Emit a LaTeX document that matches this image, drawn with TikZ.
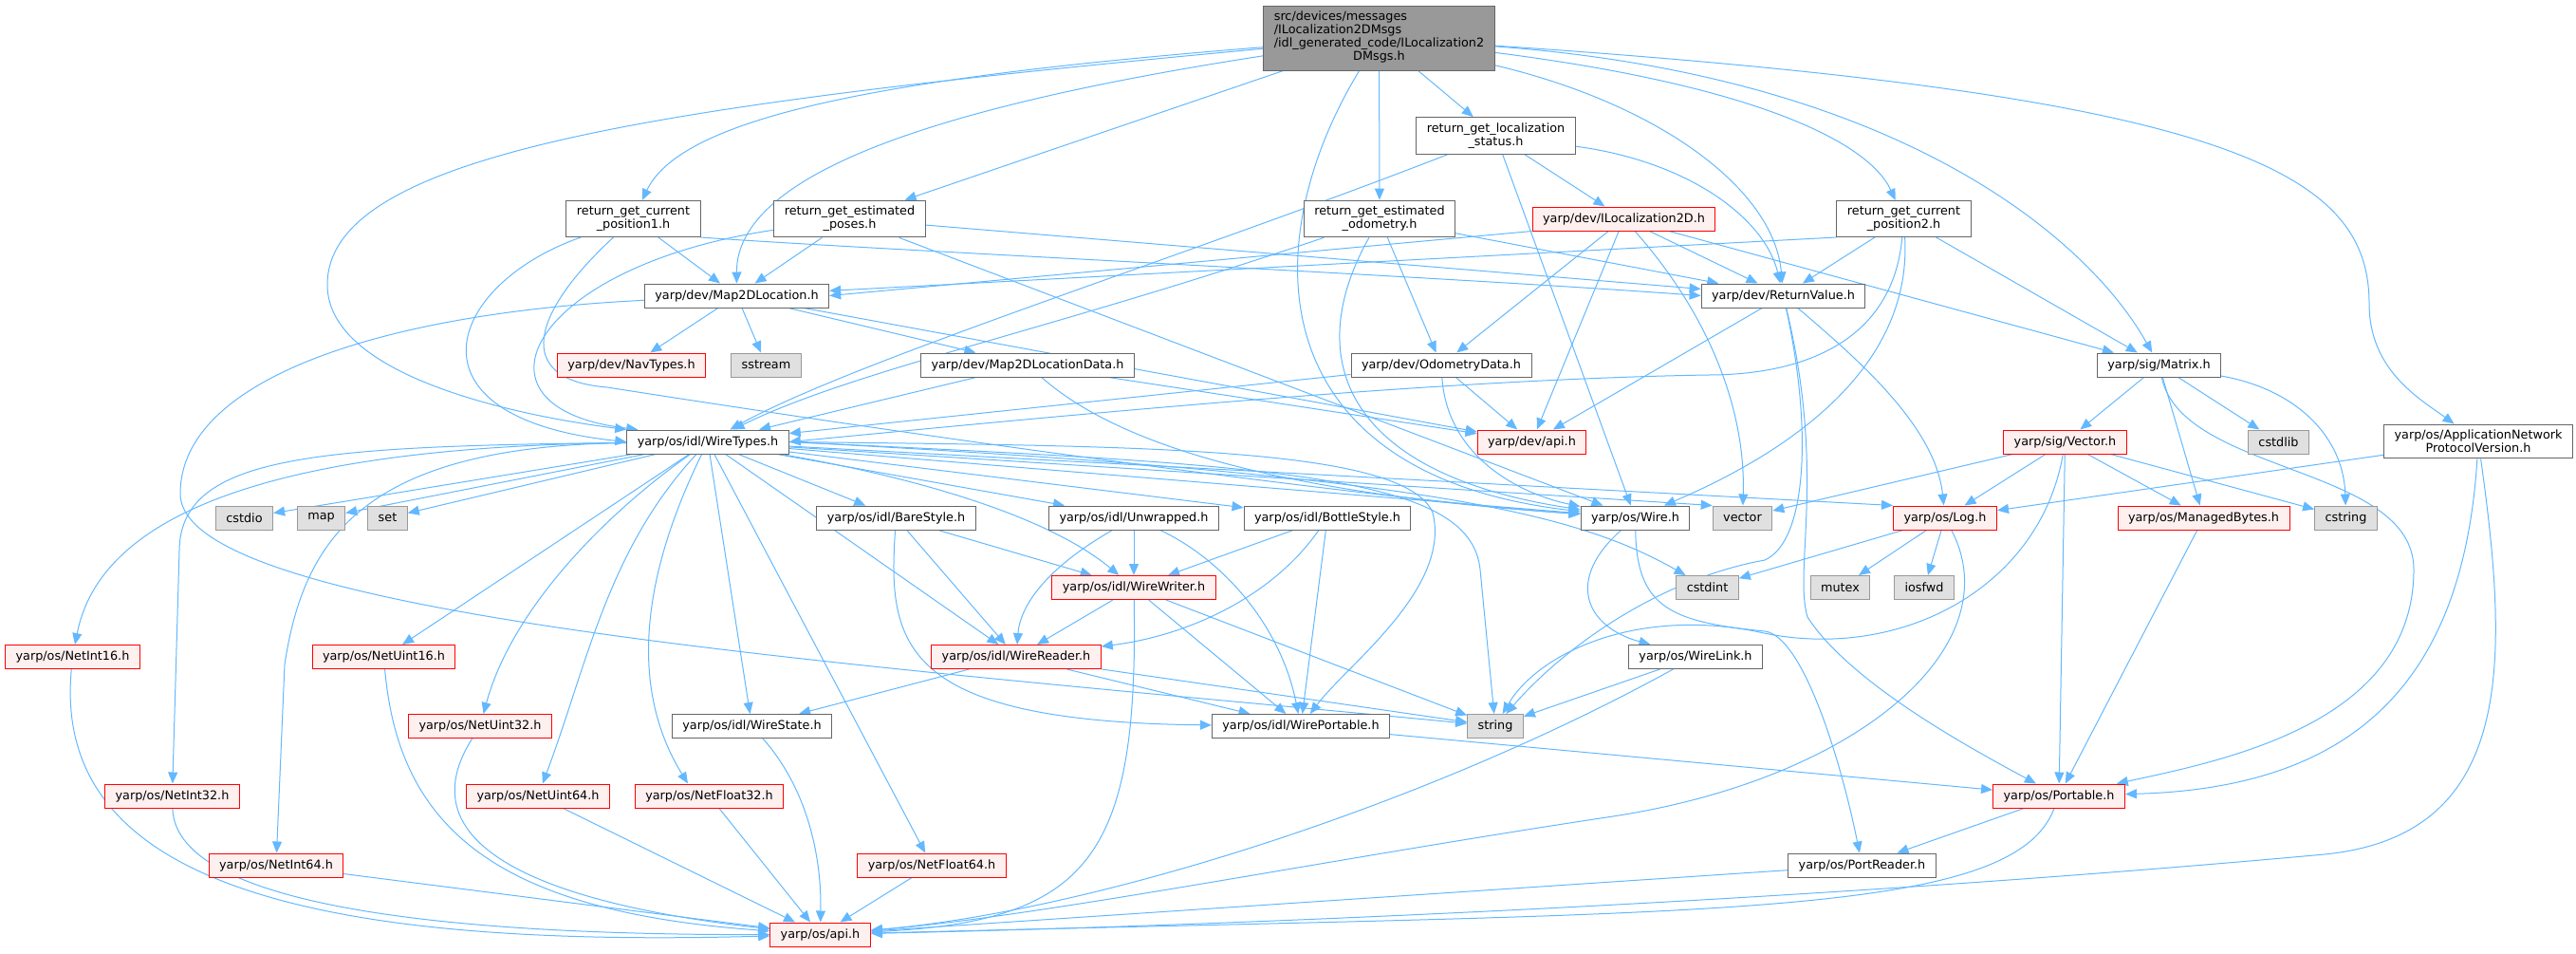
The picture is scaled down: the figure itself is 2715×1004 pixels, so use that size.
\documentclass[tikz,border=0pt]{standalone}
\usepackage{fontspec}
\setmainfont{DejaVu Sans}
\usetikzlibrary{arrows.meta, backgrounds}

\definecolor{inclblue}{HTML}{63B8FF}
\definecolor{nodegray}{HTML}{666666}
\definecolor{sysgray}{HTML}{999999}
\definecolor{sysfill}{HTML}{E0E0E0}
\definecolor{redfill}{HTML}{FFF0F0}

\tikzset{
  hdr/.style={draw=nodegray, fill=white, line width=0.75pt, inner xsep=8.25pt, inner ysep=4.5pt,
    minimum height=18.75pt, align=center, font=\fontsize{9.6}{10.5}\selectfont},
  redhdr/.style={hdr, draw=red, fill=redfill},
  syshdr/.style={hdr, draw=sysgray, fill=sysfill},
  mainhdr/.style={hdr, fill=sysgray},
  incl/.style={draw=inclblue, line width=0.75pt, -{Triangle[length=9pt, width=7.5pt]}}
}

\begin{document}
\begin{tikzpicture}[x=0.75pt, y=0.75pt]
\useasboundingbox (0,0) rectangle (2715,-1004);

\node[mainhdr] (top) at (1453.5,-40) {\begin{tabular}{@{}l@{}}src/devices/messages\\/ILocalization2DMsgs\\/idl\_generated\_code/ILocalization2\\\multicolumn{1}{@{}c@{}}{DMsgs.h}\end{tabular}};
\node[hdr] (rgls) at (1576.5,-143) {return\_get\_localization\\\_status.h};
\node[hdr] (rgcpA) at (667.5,-230.5) {return\_get\_current\\\_position1.h};
\node[hdr] (rgep) at (895.5,-230.5) {return\_get\_estimated\\\_poses.h};
\node[hdr] (rgeo) at (1454,-230.5) {return\_get\_estimated\\\_odometry.h};
\node[redhdr] (iloc) at (1711.5,-230.5) {yarp/dev/ILocalization2D.h};
\node[hdr] (rgcpB) at (2006.5,-230.5) {return\_get\_current\\\_position2.h};
\node[hdr] (mapLoc) at (776.5,-311.5) {yarp/dev/Map2DLocation.h};
\node[hdr] (retVal) at (1879.5,-311.5) {yarp/dev/ReturnValue.h};
\node[redhdr] (navTypes) at (665.5,-384.5) {yarp/dev/NavTypes.h};
\node[syshdr] (sstream) at (807.5,-384.5) {sstream};
\node[hdr] (mapLocData) at (1083,-384.5) {yarp/dev/Map2DLocationData.h};
\node[hdr] (odomData) at (1519,-384.5) {yarp/dev/OdometryData.h};
\node[hdr] (matrix) at (2275.5,-384.5) {yarp/sig/Matrix.h};
\node[hdr] (wireTypes) at (746,-465.5) {yarp/os/idl/WireTypes.h};
\node[redhdr] (devApi) at (1614.5,-465.5) {yarp/dev/api.h};
\node[redhdr] (sigVector) at (2176.5,-465.5) {yarp/sig/Vector.h};
\node[syshdr] (cstdlib) at (2401.5,-465.5) {cstdlib};
\node[hdr] (appNet) at (2612,-465) {yarp/os/ApplicationNetwork\\ProtocolVersion.h};
\node[syshdr] (cstdio) at (257.5,-545.5) {cstdio};
\node[syshdr] (map) at (338.5,-545.5) {map};
\node[syshdr] (set) at (408.5,-545.5) {set};
\node[hdr] (bareStyle) at (944.5,-545.5) {yarp/os/idl/BareStyle.h};
\node[hdr] (unwrapped) at (1195,-545.5) {yarp/os/idl/Unwrapped.h};
\node[hdr] (bottleStyle) at (1399,-545.5) {yarp/os/idl/BottleStyle.h};
\node[hdr] (wire) at (1723.5,-545.5) {yarp/os/Wire.h};
\node[syshdr] (vector) at (1836.5,-545.5) {vector};
\node[redhdr] (log) at (2050,-545.5) {yarp/os/Log.h};
\node[redhdr] (managedBytes) at (2322.5,-545.5) {yarp/os/ManagedBytes.h};
\node[syshdr] (cstring) at (2472.5,-545.5) {cstring};
\node[redhdr] (wireWriter) at (1195,-619) {yarp/os/idl/WireWriter.h};
\node[syshdr] (cstdint) at (1799.5,-619) {cstdint};
\node[syshdr] (mutex) at (1939.5,-619) {mutex};
\node[syshdr] (iosfwd) at (2028,-619) {iosfwd};
\node[redhdr] (netInt16) at (76.5,-692) {yarp/os/NetInt16.h};
\node[redhdr] (netUint16) at (404.5,-692) {yarp/os/NetUint16.h};
\node[redhdr] (wireReader) at (1071,-692) {yarp/os/idl/WireReader.h};
\node[hdr] (wireLink) at (1787,-692) {yarp/os/WireLink.h};
\node[redhdr] (netUint32) at (506,-765) {yarp/os/NetUint32.h};
\node[hdr] (wireState) at (792.5,-765) {yarp/os/idl/WireState.h};
\node[hdr] (wirePortable) at (1371,-765) {yarp/os/idl/WirePortable.h};
\node[syshdr] (string) at (1576,-765) {string};
\node[redhdr] (netInt32) at (181.5,-838.5) {yarp/os/NetInt32.h};
\node[redhdr] (netUint64) at (567,-838.5) {yarp/os/NetUint64.h};
\node[redhdr] (netFloat32) at (747.5,-838.5) {yarp/os/NetFloat32.h};
\node[redhdr] (portable) at (2170,-838.5) {yarp/os/Portable.h};
\node[redhdr] (netInt64) at (291,-911.5) {yarp/os/NetInt64.h};
\node[redhdr] (netFloat64) at (982,-911.5) {yarp/os/NetFloat64.h};
\node[hdr] (portReader) at (1962.5,-911.5) {yarp/os/PortReader.h};
\node[redhdr] (osApi) at (864.5,-984.5) {yarp/os/api.h};

\begin{scope}[on background layer]
\foreach \a/\b in {top/rgep, top/rgeo, top/rgls, rgls/iloc, rgls/wire, rgcpA/mapLoc, rgep/mapLoc,
    rgep/retVal, rgep/wire, rgeo/retVal, rgeo/odomData, iloc/retVal, iloc/odomData, iloc/devApi,
    iloc/matrix, rgcpB/retVal, rgcpB/matrix, mapLoc/navTypes, mapLoc/sstream, mapLoc/mapLocData,
    mapLoc/devApi, retVal/devApi, mapLocData/wireTypes, mapLocData/devApi, odomData/devApi,
    odomData/wireTypes, matrix/sigVector, matrix/cstdlib, matrix/managedBytes, sigVector/vector,
    sigVector/log, sigVector/portable, sigVector/managedBytes, sigVector/cstring, appNet/log,
    wireTypes/cstdio, wireTypes/map, wireTypes/set, wireTypes/netUint16, wireTypes/netFloat64,
    wireTypes/wireState, wireTypes/bareStyle, wireTypes/unwrapped, wireTypes/bottleStyle,
    wireTypes/wireReader, wireTypes/wire, bareStyle/wireWriter, bareStyle/wireReader,
    unwrapped/wireWriter, bottleStyle/wireWriter, bottleStyle/wirePortable, wireWriter/wireReader,
    wireWriter/wirePortable, wireWriter/string, wireReader/wireState, wireReader/wirePortable,
    wireReader/string, wireLink/string, log/cstdint, log/mutex, log/iosfwd, managedBytes/portable,
    portable/portReader, portReader/osApi, wirePortable/portable, netInt64/osApi, netUint64/osApi,
    netFloat32/osApi, netFloat64/osApi}
  \draw[incl] (\a) -- (\b);

\draw[incl] (top) .. controls (700,-110) and (345,-160) .. (345,-300) .. controls (345,-400) and (560,-440) .. (wireTypes.north west);
\draw[incl] (top) .. controls (950,-80) and (720,-120) .. (rgcpA);
\draw[incl] (top) .. controls (1000,-110) and (776,-180) .. (mapLoc);
\draw[incl] (top) .. controls (1320,-260) and (1330,-500) .. (wire);
\draw[incl] (top) .. controls (1750,-110) and (1870,-200) .. (retVal);
\draw[incl] (top) .. controls (1850,-90) and (1970,-150) .. (rgcpB);
\draw[incl] (top) .. controls (2000,-80) and (2200,-250) .. (matrix);
\draw[incl] (top) .. controls (2350,-100) and (2497,-180) .. (2497,-320) .. controls (2497,-390) and (2550,-420) .. (appNet);
\draw[incl] (rgls) .. controls (1780,-170) and (1860,-230) .. (retVal);
\draw[incl] (rgls) .. controls (1250,-270) and (900,-380) .. (wireTypes);
\draw[incl] (rgcpA) .. controls (470,-300) and (420,-440) .. (wireTypes.west);
\draw[incl] (rgcpA) .. controls (560,-330) and (540,-400) .. (640,-408) .. controls (1100,-480) and (1500,-530) .. (wire);
\draw[incl] (rgcpA.south east) .. controls (900,-262) and (1500,-290) .. (retVal.west);
\draw[incl] (rgep) .. controls (560,-280) and (480,-430) .. (wireTypes.170);
\draw[incl] (rgeo) .. controls (1100,-350) and (900,-390) .. (wireTypes);
\draw[incl] (rgeo) .. controls (1370,-380) and (1420,-500) .. (wire);
\draw[incl] (iloc.south west) -- (mapLoc.east);
\draw[incl] (iloc) .. controls (1800,-330) and (1840,-430) .. (vector);
\draw[incl] (rgcpB.south west) -- (mapLoc);
\draw[incl] (rgcpB) .. controls (1995,-360) and (1900,-395) .. (1800,-395) .. controls (1500,-400) and (1100,-440) .. (wireTypes.east);
\draw[incl] (rgcpB) .. controls (2015,-380) and (1900,-470) .. (wire);
\draw[incl] (retVal) .. controls (1960,-380) and (2040,-450) .. (log);
\draw[incl] (retVal) .. controls (1910,-450) and (1905,-570) .. (1860,-590) .. controls (1750,-610) and (1650,-680) .. (string);
\draw[incl] (retVal) .. controls (1925,-500) and (1890,-600) .. (1905,-650) .. controls (1950,-720) and (2080,-790) .. (portable);
\draw[incl] (mapLoc) .. controls (400,-330) and (190,-400) .. (190,-520) .. controls (190,-650) and (900,-700) .. (string);
\draw[incl] (mapLocData) .. controls (1180,-470) and (1350,-520) .. (wire);
\draw[incl] (odomData) .. controls (1525,-480) and (1600,-520) .. (wire);
\draw[incl] (matrix) .. controls (2420,-410) and (2470,-460) .. (cstring);
\draw[incl] (matrix) .. controls (2300,-500) and (2544,-490) .. (2544,-600) .. controls (2544,-760) and (2350,-800) .. (portable);
\draw[incl] (sigVector) .. controls (2150,-620) and (2000,-700) .. (1850,-665) .. controls (1720,-640) and (1620,-690) .. (string);
\draw[incl] (appNet) .. controls (2596,-720) and (2480,-830) .. (portable);
\draw[incl] (appNet) .. controls (2645,-700) and (2650,-880) .. (2450,-900) .. controls (1900,-950) and (1300,-975) .. (osApi);
\draw[incl] (wireTypes) .. controls (350,-470) and (110,-520) .. (netInt16);
\draw[incl] (wireTypes) .. controls (330,-470) and (190,-480) .. (189,-580) -- (netInt32);
\draw[incl] (wireTypes) .. controls (380,-470) and (320,-570) .. (300,-700) -- (netInt64);
\draw[incl] (wireTypes) .. controls (640,-540) and (540,-640) .. (netUint32);
\draw[incl] (wireTypes) .. controls (640,-580) and (619,-700) .. (netUint64);
\draw[incl] (wireTypes) .. controls (680,-600) and (660,-720) .. (netFloat32.150);
\draw[incl] (wireTypes) .. controls (950,-500) and (1100,-540) .. (wireWriter);
\draw[incl] (wireTypes.east) .. controls (1200,-470) and (1480,-470) .. (1510,-540) .. controls (1530,-620) and (1420,-700) .. (wirePortable);
\draw[incl] (wireTypes.east) .. controls (1350,-490) and (1550,-500) .. (1560,-600) -- (string);
\draw[incl] (wireTypes) -- (vector.north west);
\draw[incl] (wireTypes) -- (log.north west);
\draw[incl] (wireTypes.east) .. controls (1500,-500) and (1660,-540) .. (cstdint);
\draw[incl] (bareStyle) .. controls (935,-680) and (950,-760) .. (wirePortable);
\draw[incl] (unwrapped) .. controls (1100,-600) and (1075,-640) .. (wireReader);
\draw[incl] (unwrapped) .. controls (1290,-590) and (1350,-660) .. (wirePortable);
\draw[incl] (bottleStyle) .. controls (1340,-630) and (1250,-670) .. (wireReader);
\draw[incl] (wireWriter) .. controls (1200,-900) and (1150,-970) .. (osApi);
\draw[incl] (wireState) .. controls (850,-830) and (866,-900) .. (osApi);
\draw[incl] (netInt16) .. controls (55,-920) and (300,-1000) .. (osApi);
\draw[incl] (netInt32) .. controls (185,-960) and (500,-985) .. (osApi);
\draw[incl] (netUint16) .. controls (420,-870) and (520,-960) .. (osApi);
\draw[incl] (netUint32) .. controls (420,-900) and (600,-955) .. (osApi);
\draw[incl] (wire) .. controls (1650,-610) and (1670,-660) .. (wireLink);
\draw[incl] (wire) .. controls (1725,-640) and (1760,-655) .. (1860,-665) .. controls (1900,-670) and (1940,-800) .. (portReader);
\draw[incl] (wireLink) .. controls (1500,-850) and (1150,-960) .. (osApi);
\draw[incl] (log) .. controls (2120,-680) and (1960,-820) .. (1700,-860) .. controls (1400,-905) and (1100,-965) .. (osApi);
\draw[incl] (portable) .. controls (2120,-970) and (1800,-960) .. (osApi);
\end{scope}
\end{tikzpicture}
\end{document}
